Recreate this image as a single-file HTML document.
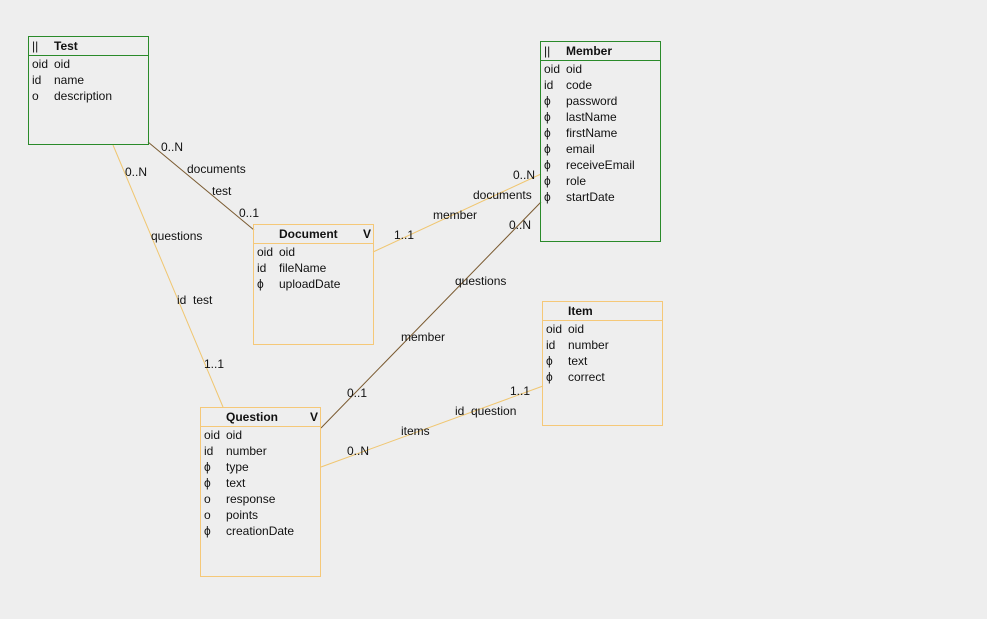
<!DOCTYPE html>
<html><head><meta charset="utf-8"><style>
body{margin:0;width:987px;height:619px;background:#eeeeee;position:relative;overflow:hidden;font-family:"Liberation Sans","DejaVu Sans",sans-serif;font-size:12px;color:#111}
.b{position:absolute;box-sizing:border-box;border:1px solid #f5c878}
.g{border-color:#2a8a2a}
.h{height:18px;border-bottom:1px solid #f5c878;font-weight:bold;line-height:19px;position:relative}
.g .h{border-bottom-color:#2a8a2a}
.h span{position:absolute}
.h .p{font-weight:normal}
.r{height:16px;line-height:16px;position:relative;white-space:nowrap}
.r .k{position:absolute;left:3px}
.r .n{position:absolute;left:25px}
svg{position:absolute;left:0;top:0}
svg text{font-family:"Liberation Sans","DejaVu Sans",sans-serif;font-size:12px;fill:#111;white-space:pre}
</style></head><body>
<svg width="987" height="619">
<line x1="148" y1="142" x2="254" y2="230" stroke="#7a5a30" stroke-width="1"/>
<line x1="113" y1="145" x2="223" y2="407" stroke="#f0c670" stroke-width="1"/>
<line x1="373" y1="252" x2="541" y2="174" stroke="#f0c670" stroke-width="1"/>
<line x1="541" y1="202" x2="321" y2="428" stroke="#7a5a30" stroke-width="1"/>
<line x1="321" y1="467" x2="543" y2="386" stroke="#f0c670" stroke-width="1"/>
<text x="161" y="151">0..N</text>
<text x="187" y="173">documents</text>
<text x="212" y="195">test</text>
<text x="239" y="217">0..1</text>
<text x="125" y="176">0..N</text>
<text x="151" y="240">questions</text>
<text x="177" y="304">id&#160;&#160;test</text>
<text x="204" y="368">1..1</text>
<text x="513" y="179">0..N</text>
<text x="473" y="199">documents</text>
<text x="433" y="219">member</text>
<text x="394" y="239">1..1</text>
<text x="509" y="229">0..N</text>
<text x="455" y="285">questions</text>
<text x="401" y="341">member</text>
<text x="347" y="397">0..1</text>
<text x="510" y="395">1..1</text>
<text x="455" y="415">id&#160;&#160;question</text>
<text x="401" y="435">items</text>
<text x="347" y="455">0..N</text>
</svg>

<div class="b g" style="left:28px;top:36px;width:121px;height:109px">
<div class="h"><span class="p" style="left:3px">||</span><span style="left:25px">Test</span></div>
<div class="r"><span class="k">oid</span><span class="n">oid</span></div>
<div class="r"><span class="k">id</span><span class="n">name</span></div>
<div class="r"><span class="k">o</span><span class="n">description</span></div>
</div>

<div class="b g" style="left:540px;top:41px;width:121px;height:201px">
<div class="h"><span class="p" style="left:3px">||</span><span style="left:25px">Member</span></div>
<div class="r"><span class="k">oid</span><span class="n">oid</span></div>
<div class="r"><span class="k">id</span><span class="n">code</span></div>
<div class="r"><span class="k">ϕ</span><span class="n">password</span></div>
<div class="r"><span class="k">ϕ</span><span class="n">lastName</span></div>
<div class="r"><span class="k">ϕ</span><span class="n">firstName</span></div>
<div class="r"><span class="k">ϕ</span><span class="n">email</span></div>
<div class="r"><span class="k">ϕ</span><span class="n">receiveEmail</span></div>
<div class="r"><span class="k">ϕ</span><span class="n">role</span></div>
<div class="r"><span class="k">ϕ</span><span class="n">startDate</span></div>
</div>

<div class="b" style="left:253px;top:224px;width:121px;height:121px">
<div class="h"><span style="left:25px">Document</span><span style="left:109px">V</span></div>
<div class="r"><span class="k">oid</span><span class="n">oid</span></div>
<div class="r"><span class="k">id</span><span class="n">fileName</span></div>
<div class="r"><span class="k">ϕ</span><span class="n">uploadDate</span></div>
</div>

<div class="b" style="left:542px;top:301px;width:121px;height:125px">
<div class="h"><span style="left:25px">Item</span></div>
<div class="r"><span class="k">oid</span><span class="n">oid</span></div>
<div class="r"><span class="k">id</span><span class="n">number</span></div>
<div class="r"><span class="k">ϕ</span><span class="n">text</span></div>
<div class="r"><span class="k">ϕ</span><span class="n">correct</span></div>
</div>

<div class="b" style="left:200px;top:407px;width:121px;height:170px">
<div class="h"><span style="left:25px">Question</span><span style="left:109px">V</span></div>
<div class="r"><span class="k">oid</span><span class="n">oid</span></div>
<div class="r"><span class="k">id</span><span class="n">number</span></div>
<div class="r"><span class="k">ϕ</span><span class="n">type</span></div>
<div class="r"><span class="k">ϕ</span><span class="n">text</span></div>
<div class="r"><span class="k">o</span><span class="n">response</span></div>
<div class="r"><span class="k">o</span><span class="n">points</span></div>
<div class="r"><span class="k">ϕ</span><span class="n">creationDate</span></div>
</div>
</body></html>
